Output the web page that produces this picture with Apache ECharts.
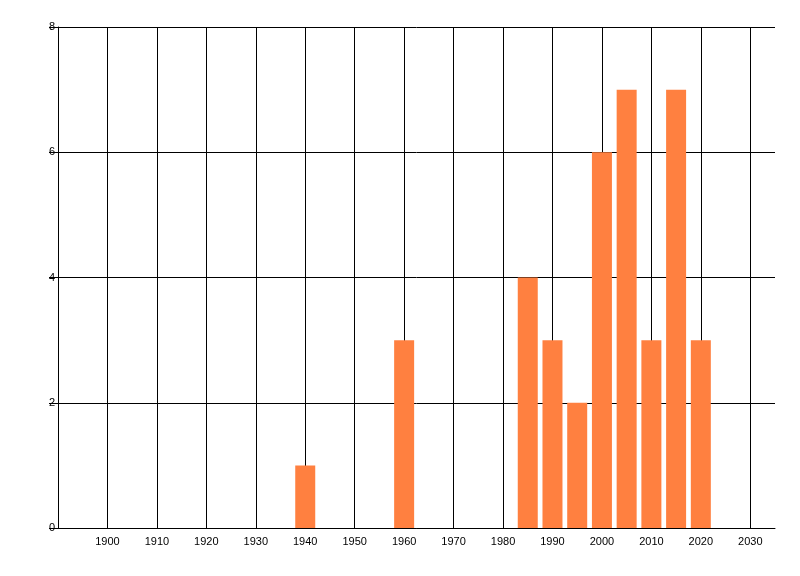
<!doctype html>
<html>
<head>
    <meta charset="utf-8">
    <title>bars</title>
    <script src="https://cdn.jsdelivr.net/npm/echarts@6/dist/echarts.min.js"></script>
    <style>
        html, body { margin: 0; padding: 0; background: #fff; }
        #container { width: 800px; height: 576px; }
    </style>
</head>
<body>
    <div id="container"></div>
    <script type="text/javascript">
        // years (bar centres) and counts
        var years = [1940, 1960, 1985, 1990, 1995, 2000, 2005, 2010, 2015, 2020];
        var counts = [1, 3, 4, 3, 2, 6, 7, 3, 7, 3];
        var xMin = 1890, xMax = 2035, xStep = 10;
        var yMin = 0, yMax = 8, yStep = 2;

        var points = [];
        for (var i = 0; i < years.length; i++) {
            points.push([years[i], counts[i]]);
        }

        var labelFont = {
            color: '#000',
            fontFamily: 'Liberation Sans, Arial, sans-serif',
            fontSize: 11
        };

        var option = {
            animation: false,
            backgroundColor: '#fff',
            grid: { left: 58, right: 25, top: 27, bottom: 48, containLabel: false },
            xAxis: {
                type: 'value',
                min: xMin,
                max: xMax,
                interval: xStep,
                axisLine: { show: true, onZero: false, lineStyle: { color: '#000', width: 1 } },
                axisTick: { show: false },
                axisLabel: Object.assign({
                    margin: 8,
                    showMinLabel: false,
                    showMaxLabel: false,
                    formatter: function (v) {
                        if (v <= xMin || v >= xMax) return '';
                        return String(v);
                    }
                }, labelFont),
                splitLine: {
                    show: true,
                    showMinLine: false,
                    showMaxLine: false,
                    lineStyle: { color: '#000', width: 1 }
                }
            },
            yAxis: {
                type: 'value',
                min: yMin,
                max: yMax,
                interval: yStep,
                axisLine: { show: true, lineStyle: { color: '#000', width: 1 } },
                axisTick: { show: true, length: 9, lineStyle: { color: '#000', width: 1 } },
                axisLabel: Object.assign({ margin: 3 }, labelFont),
                splitLine: { show: true, lineStyle: { color: '#000', width: 1 } }
            },
            series: [{
                type: 'bar',
                barWidth: 20,
                itemStyle: { color: '#ff8040' },
                data: points
            }]
        };

        var myChart = echarts.init(document.getElementById('container'));
        myChart.setOption(option);
    </script>
</body>
</html>
